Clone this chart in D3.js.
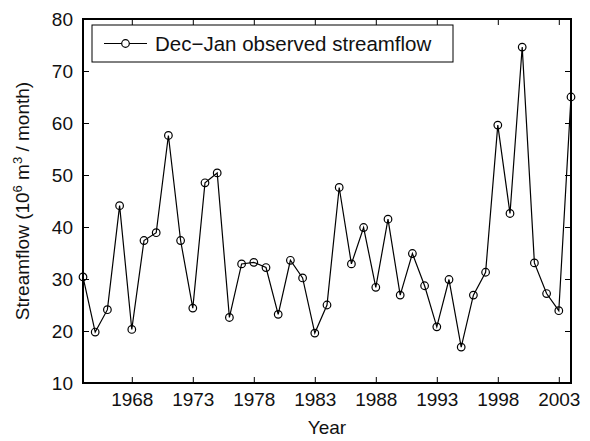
<!DOCTYPE html>
<html>
<head>
<meta charset="utf-8">
<script src="https://cdnjs.cloudflare.com/ajax/libs/d3/7.8.5/d3.min.js"></script>
<style>
  body { margin: 0; background: #fff; }
  text { font-family: "Liberation Sans", Arial, sans-serif; fill: #111; }
</style>
</head>
<body>
<script>
// Dec-Jan observed streamflow, one value per year
var years = d3.range(1964, 2005);
var flow = [30.4, 19.8, 24.1, 44.1, 20.3, 37.4, 38.9, 57.6, 37.4, 24.4,
            48.5, 50.4, 22.6, 32.9, 33.2, 32.2, 23.2, 33.6, 30.2, 19.6,
            25.0, 47.6, 32.9, 39.9, 28.4, 41.5, 26.9, 34.9, 28.7, 20.8,
            29.9, 16.9, 26.9, 31.3, 59.6, 42.6, 74.6, 33.1, 27.2, 23.9,
            65.0];
var xTicks = [1968, 1973, 1978, 1983, 1988, 1993, 1998, 2003];
var yTicks = [10, 20, 30, 40, 50, 60, 70, 80];

var W = 590, H = 441;
var margin = {top: 19, right: 19, bottom: 58, left: 83};
var width = W - margin.left - margin.right,
    height = H - margin.top - margin.bottom;

var svg = d3.select("body").append("svg")
    .attr("width", W)
    .attr("height", H);

var g = svg.append("g")
    .attr("transform", "translate(" + margin.left + "," + margin.top + ")");

var x = d3.scaleLinear().domain([1964, 2004]).range([0, width]);
var y = d3.scaleLinear().domain([10, 80]).range([height, 0]);

// axes, ticks pointing inward on all four sides
function styleAxis(sel) {
  sel.select(".domain").remove();
  sel.selectAll("line").attr("stroke", "#000").attr("stroke-width", 1);
  sel.selectAll("text").style("font-size", "19px").attr("fill", "#111");
}

g.append("g")
    .attr("transform", "translate(0," + height + ")")
    .call(d3.axisBottom(x).tickValues(xTicks).tickFormat(d3.format("d"))
      .tickSizeInner(-6).tickSizeOuter(0).tickPadding(10))
    .call(styleAxis);

g.append("g")
    .call(d3.axisTop(x).tickValues(xTicks).tickFormat("")
      .tickSizeInner(-6).tickSizeOuter(0))
    .call(styleAxis);

g.append("g")
    .call(d3.axisLeft(y).tickValues(yTicks)
      .tickSizeInner(-6).tickSizeOuter(0).tickPadding(10))
    .call(styleAxis);

g.append("g")
    .attr("transform", "translate(" + width + ",0)")
    .call(d3.axisRight(y).tickValues(yTicks).tickFormat("")
      .tickSizeInner(-6).tickSizeOuter(0))
    .call(styleAxis);

// frame
g.append("rect")
    .attr("width", width)
    .attr("height", height)
    .attr("fill", "none")
    .attr("stroke", "#000")
    .attr("stroke-width", 2);

// series
var pts = years.map(function(d, i) { return [d, flow[i]]; });

g.append("path")
    .datum(pts)
    .attr("fill", "none")
    .attr("stroke", "#000")
    .attr("stroke-width", 1.2)
    .attr("d", d3.line()
      .x(function(d) { return x(d[0]); })
      .y(function(d) { return y(d[1]); }));

g.selectAll(".pt")
    .data(pts)
    .enter().append("circle")
    .attr("class", "pt")
    .attr("cx", function(d) { return x(d[0]); })
    .attr("cy", function(d) { return y(d[1]); })
    .attr("r", 3.8)
    .attr("fill", "none")
    .attr("stroke", "#000")
    .attr("stroke-width", 1.2);

// legend
var lg = g.append("g").attr("transform", "translate(9,6)");
lg.append("rect")
    .attr("width", 361)
    .attr("height", 37)
    .attr("fill", "#fff")
    .attr("stroke", "#000")
    .attr("stroke-width", 1);
lg.append("line")
    .attr("x1", 12).attr("x2", 55)
    .attr("y1", 18.5).attr("y2", 18.5)
    .attr("stroke", "#000").attr("stroke-width", 1.2);
lg.append("circle")
    .attr("cx", 33.5).attr("cy", 18.5).attr("r", 3.8)
    .attr("fill", "#fff").attr("stroke", "#000").attr("stroke-width", 1.2);
lg.append("text")
    .attr("x", 63).attr("y", 26)
    .style("font-size", "20.5px")
    .text("Dec\u2212Jan observed streamflow");

// axis titles
svg.append("text")
    .attr("x", margin.left + width / 2)
    .attr("y", 434)
    .attr("text-anchor", "middle")
    .style("font-size", "19px")
    .text("Year");

var yl = svg.append("text")
    .attr("transform", "translate(29," + (margin.top + height / 2) + ") rotate(-90)")
    .attr("text-anchor", "middle")
    .style("font-size", "19px");
yl.append("tspan").text("Streamflow (10");
yl.append("tspan").attr("dy", -7).style("font-size", "13px").text("6");
yl.append("tspan").attr("dy", 7).text(" m");
yl.append("tspan").attr("dy", -7).style("font-size", "13px").text("3");
yl.append("tspan").attr("dy", 7).text(" / month)");
</script>
</body>
</html>
